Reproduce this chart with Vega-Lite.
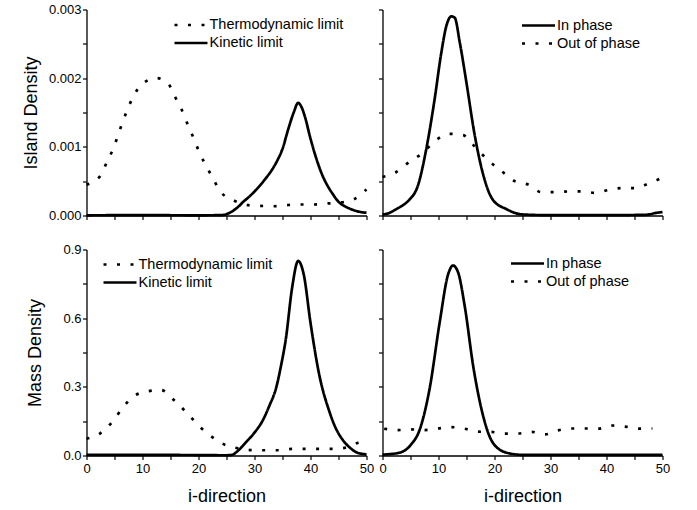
{
  "$schema": "https://vega.github.io/schema/vega-lite/v6.json",
  "padding": {"left": 22.5, "top": 3.5, "right": 5, "bottom": 5},
  "background": "white",
  "columns": 2,
  "spacing": {"row": 34, "column": 16},
  "bounds": "flush",
  "resolve": {"scale": {"y": "independent", "strokeDash": "independent"}, "legend": {"strokeDash": "independent"}},
  "datasets": {
    "tl": [
      {"i": 0, "v": 0.00045, "s": "Thermodynamic limit"}, {"i": 2.4, "v": 0.00057, "s": "Thermodynamic limit"}, {"i": 3.6, "v": 0.00077, "s": "Thermodynamic limit"}, {"i": 4.7, "v": 0.00096, "s": "Thermodynamic limit"}, {"i": 5.6, "v": 0.00116, "s": "Thermodynamic limit"}, {"i": 6.4, "v": 0.00135, "s": "Thermodynamic limit"}, {"i": 7.3, "v": 0.00154, "s": "Thermodynamic limit"}, {"i": 8.4, "v": 0.00174, "s": "Thermodynamic limit"}, {"i": 10, "v": 0.00192, "s": "Thermodynamic limit"}, {"i": 12.5, "v": 0.002, "s": "Thermodynamic limit"}, {"i": 14.6, "v": 0.00192, "s": "Thermodynamic limit"}, {"i": 15.8, "v": 0.00173, "s": "Thermodynamic limit"}, {"i": 17, "v": 0.00154, "s": "Thermodynamic limit"}, {"i": 18, "v": 0.00134, "s": "Thermodynamic limit"}, {"i": 19, "v": 0.00115, "s": "Thermodynamic limit"}, {"i": 20, "v": 0.00095, "s": "Thermodynamic limit"}, {"i": 21.1, "v": 0.00076, "s": "Thermodynamic limit"}, {"i": 22.4, "v": 0.00057, "s": "Thermodynamic limit"}, {"i": 23.9, "v": 0.00035, "s": "Thermodynamic limit"}, {"i": 26.3, "v": 0.00022, "s": "Thermodynamic limit"}, {"i": 28.9, "v": 0.00015, "s": "Thermodynamic limit"}, {"i": 31.1, "v": 0.00014, "s": "Thermodynamic limit"}, {"i": 33.5, "v": 0.000135, "s": "Thermodynamic limit"}, {"i": 35.6, "v": 0.00015, "s": "Thermodynamic limit"}, {"i": 37.9, "v": 0.00016, "s": "Thermodynamic limit"}, {"i": 40.6, "v": 0.00016, "s": "Thermodynamic limit"}, {"i": 43, "v": 0.000175, "s": "Thermodynamic limit"}, {"i": 45.5, "v": 0.00019, "s": "Thermodynamic limit"}, {"i": 47.6, "v": 0.00023, "s": "Thermodynamic limit"}, {"i": 50, "v": 0.00038, "s": "Thermodynamic limit"},
      {"i": 0, "v": 0.000003, "s": "Kinetic limit"}, {"i": 10, "v": 0.000005, "s": "Kinetic limit"}, {"i": 20, "v": 0.000003, "s": "Kinetic limit"}, {"i": 24, "v": 0.000005, "s": "Kinetic limit"}, {"i": 25, "v": 0.00002, "s": "Kinetic limit"}, {"i": 26, "v": 0.00006, "s": "Kinetic limit"}, {"i": 27, "v": 0.00012, "s": "Kinetic limit"}, {"i": 28, "v": 0.0002, "s": "Kinetic limit"}, {"i": 29, "v": 0.00027, "s": "Kinetic limit"}, {"i": 30, "v": 0.00035, "s": "Kinetic limit"}, {"i": 31, "v": 0.00044, "s": "Kinetic limit"}, {"i": 32, "v": 0.00054, "s": "Kinetic limit"}, {"i": 33, "v": 0.00065, "s": "Kinetic limit"}, {"i": 34, "v": 0.00079, "s": "Kinetic limit"}, {"i": 35, "v": 0.00097, "s": "Kinetic limit"}, {"i": 36, "v": 0.00125, "s": "Kinetic limit"}, {"i": 37, "v": 0.0015, "s": "Kinetic limit"}, {"i": 37.8, "v": 0.00164, "s": "Kinetic limit"}, {"i": 38.5, "v": 0.00156, "s": "Kinetic limit"}, {"i": 39, "v": 0.00144, "s": "Kinetic limit"}, {"i": 40, "v": 0.00112, "s": "Kinetic limit"}, {"i": 41, "v": 0.00084, "s": "Kinetic limit"}, {"i": 42, "v": 0.00061, "s": "Kinetic limit"}, {"i": 43, "v": 0.00044, "s": "Kinetic limit"}, {"i": 44, "v": 0.00031, "s": "Kinetic limit"}, {"i": 45, "v": 0.0002, "s": "Kinetic limit"}, {"i": 46, "v": 0.00014, "s": "Kinetic limit"}, {"i": 47, "v": 0.0001, "s": "Kinetic limit"}, {"i": 48, "v": 0.00007, "s": "Kinetic limit"}, {"i": 49, "v": 0.00005, "s": "Kinetic limit"}, {"i": 50, "v": 0.00004, "s": "Kinetic limit"}
    ],
    "tr": [
      {"i": 0, "v": 0.000015, "s": "In phase"}, {"i": 1, "v": 0.00003, "s": "In phase"}, {"i": 2.4, "v": 0.00009, "s": "In phase"}, {"i": 4, "v": 0.00017, "s": "In phase"}, {"i": 4.8, "v": 0.00023, "s": "In phase"}, {"i": 6.3, "v": 0.00043, "s": "In phase"}, {"i": 7.8, "v": 0.00096, "s": "In phase"}, {"i": 9.3, "v": 0.00169, "s": "In phase"}, {"i": 10.5, "v": 0.00237, "s": "In phase"}, {"i": 11.4, "v": 0.00276, "s": "In phase"}, {"i": 12.3, "v": 0.0029, "s": "In phase"}, {"i": 12.9, "v": 0.00288, "s": "In phase"}, {"i": 13.8, "v": 0.00252, "s": "In phase"}, {"i": 15, "v": 0.00193, "s": "In phase"}, {"i": 16.4, "v": 0.0012, "s": "In phase"}, {"i": 17.9, "v": 0.00062, "s": "In phase"}, {"i": 19.7, "v": 0.00023, "s": "In phase"}, {"i": 22.2, "v": 0.00009, "s": "In phase"}, {"i": 25, "v": 0.000015, "s": "In phase"}, {"i": 30, "v": 0.000005, "s": "In phase"}, {"i": 40, "v": 0.000005, "s": "In phase"}, {"i": 47, "v": 0.00001, "s": "In phase"}, {"i": 49, "v": 0.00004, "s": "In phase"}, {"i": 50, "v": 0.00005, "s": "In phase"},
      {"i": 0, "v": 0.00056, "s": "Out of phase"}, {"i": 2.4, "v": 0.00063, "s": "Out of phase"}, {"i": 4.8, "v": 0.00078, "s": "Out of phase"}, {"i": 7, "v": 0.0009, "s": "Out of phase"}, {"i": 9.6, "v": 0.0011, "s": "Out of phase"}, {"i": 12, "v": 0.00119, "s": "Out of phase"}, {"i": 14.4, "v": 0.00117, "s": "Out of phase"}, {"i": 16.4, "v": 0.00101, "s": "Out of phase"}, {"i": 18.8, "v": 0.00081, "s": "Out of phase"}, {"i": 21.2, "v": 0.00065, "s": "Out of phase"}, {"i": 23.6, "v": 0.0005, "s": "Out of phase"}, {"i": 26, "v": 0.00045, "s": "Out of phase"}, {"i": 28.4, "v": 0.00034, "s": "Out of phase"}, {"i": 30.8, "v": 0.00034, "s": "Out of phase"}, {"i": 33.2, "v": 0.00035, "s": "Out of phase"}, {"i": 35.6, "v": 0.00035, "s": "Out of phase"}, {"i": 38, "v": 0.00033, "s": "Out of phase"}, {"i": 40.3, "v": 0.00037, "s": "Out of phase"}, {"i": 42.8, "v": 0.0004, "s": "Out of phase"}, {"i": 45.2, "v": 0.0004, "s": "Out of phase"}, {"i": 47.6, "v": 0.00047, "s": "Out of phase"}, {"i": 50, "v": 0.00055, "s": "Out of phase"}
    ],
    "bl": [
      {"i": 0, "v": 0.073, "s": "Thermodynamic limit"}, {"i": 2.4, "v": 0.096, "s": "Thermodynamic limit"}, {"i": 4.7, "v": 0.15, "s": "Thermodynamic limit"}, {"i": 6.5, "v": 0.21, "s": "Thermodynamic limit"}, {"i": 8.5, "v": 0.26, "s": "Thermodynamic limit"}, {"i": 10.9, "v": 0.28, "s": "Thermodynamic limit"}, {"i": 13.3, "v": 0.286, "s": "Thermodynamic limit"}, {"i": 15.7, "v": 0.24, "s": "Thermodynamic limit"}, {"i": 18, "v": 0.184, "s": "Thermodynamic limit"}, {"i": 20.2, "v": 0.126, "s": "Thermodynamic limit"}, {"i": 22.6, "v": 0.078, "s": "Thermodynamic limit"}, {"i": 25, "v": 0.044, "s": "Thermodynamic limit"}, {"i": 27.5, "v": 0.03, "s": "Thermodynamic limit"}, {"i": 29.9, "v": 0.023, "s": "Thermodynamic limit"}, {"i": 32.3, "v": 0.023, "s": "Thermodynamic limit"}, {"i": 34.5, "v": 0.023, "s": "Thermodynamic limit"}, {"i": 36.9, "v": 0.029, "s": "Thermodynamic limit"}, {"i": 39.4, "v": 0.029, "s": "Thermodynamic limit"}, {"i": 41.7, "v": 0.029, "s": "Thermodynamic limit"}, {"i": 44.1, "v": 0.029, "s": "Thermodynamic limit"}, {"i": 46.5, "v": 0.035, "s": "Thermodynamic limit"}, {"i": 48.4, "v": 0.055, "s": "Thermodynamic limit"}, {"i": 50, "v": 0.065, "s": "Thermodynamic limit"},
      {"i": 0, "v": 0.003, "s": "Kinetic limit"}, {"i": 20, "v": 0.002, "s": "Kinetic limit"}, {"i": 25, "v": 0.001, "s": "Kinetic limit"}, {"i": 26, "v": 0.003, "s": "Kinetic limit"}, {"i": 27, "v": 0.02, "s": "Kinetic limit"}, {"i": 28.4, "v": 0.056, "s": "Kinetic limit"}, {"i": 30, "v": 0.1, "s": "Kinetic limit"}, {"i": 31.4, "v": 0.15, "s": "Kinetic limit"}, {"i": 32.7, "v": 0.22, "s": "Kinetic limit"}, {"i": 33.8, "v": 0.29, "s": "Kinetic limit"}, {"i": 34.8, "v": 0.4, "s": "Kinetic limit"}, {"i": 35.6, "v": 0.51, "s": "Kinetic limit"}, {"i": 36.7, "v": 0.73, "s": "Kinetic limit"}, {"i": 37.8, "v": 0.85, "s": "Kinetic limit"}, {"i": 38.8, "v": 0.79, "s": "Kinetic limit"}, {"i": 40, "v": 0.58, "s": "Kinetic limit"}, {"i": 41.5, "v": 0.36, "s": "Kinetic limit"}, {"i": 43.4, "v": 0.19, "s": "Kinetic limit"}, {"i": 44.5, "v": 0.12, "s": "Kinetic limit"}, {"i": 45.7, "v": 0.07, "s": "Kinetic limit"}, {"i": 47, "v": 0.035, "s": "Kinetic limit"}, {"i": 48.4, "v": 0.012, "s": "Kinetic limit"}, {"i": 50, "v": 0.005, "s": "Kinetic limit"}
    ],
    "br": [
      {"i": 0, "v": 0.004, "s": "In phase"}, {"i": 3, "v": 0.012, "s": "In phase"}, {"i": 5.1, "v": 0.048, "s": "In phase"}, {"i": 6.6, "v": 0.11, "s": "In phase"}, {"i": 8.4, "v": 0.29, "s": "In phase"}, {"i": 10.2, "v": 0.58, "s": "In phase"}, {"i": 11.7, "v": 0.79, "s": "In phase"}, {"i": 12.6, "v": 0.83, "s": "In phase"}, {"i": 13.5, "v": 0.8, "s": "In phase"}, {"i": 14.7, "v": 0.65, "s": "In phase"}, {"i": 16.2, "v": 0.39, "s": "In phase"}, {"i": 18, "v": 0.17, "s": "In phase"}, {"i": 19.7, "v": 0.056, "s": "In phase"}, {"i": 22.2, "v": 0.012, "s": "In phase"}, {"i": 25, "v": 0.003, "s": "In phase"}, {"i": 50, "v": 0.003, "s": "In phase"},
      {"i": 0.3, "v": 0.117, "s": "Out of phase"}, {"i": 2.7, "v": 0.111, "s": "Out of phase"}, {"i": 5.1, "v": 0.114, "s": "Out of phase"}, {"i": 7.5, "v": 0.111, "s": "Out of phase"}, {"i": 9.9, "v": 0.118, "s": "Out of phase"}, {"i": 12.3, "v": 0.124, "s": "Out of phase"}, {"i": 14.7, "v": 0.117, "s": "Out of phase"}, {"i": 17, "v": 0.104, "s": "Out of phase"}, {"i": 19.4, "v": 0.103, "s": "Out of phase"}, {"i": 21.8, "v": 0.096, "s": "Out of phase"}, {"i": 24.2, "v": 0.096, "s": "Out of phase"}, {"i": 26.6, "v": 0.103, "s": "Out of phase"}, {"i": 29, "v": 0.092, "s": "Out of phase"}, {"i": 31.4, "v": 0.11, "s": "Out of phase"}, {"i": 33.8, "v": 0.118, "s": "Out of phase"}, {"i": 36.2, "v": 0.118, "s": "Out of phase"}, {"i": 38.6, "v": 0.117, "s": "Out of phase"}, {"i": 41, "v": 0.131, "s": "Out of phase"}, {"i": 43.4, "v": 0.126, "s": "Out of phase"}, {"i": 45.8, "v": 0.117, "s": "Out of phase"}, {"i": 48.2, "v": 0.118, "s": "Out of phase"}
    ]
  },
  "concat": [
    {
      "width": 280, "height": 206,
      "data": {"name": "tl"},
      "mark": {"type": "line", "color": "black", "strokeWidth": 2.7, "interpolate": "monotone", "strokeCap": "butt"},
      "encoding": {
        "x": {"field": "i", "type": "quantitative", "scale": {"domain": [0, 50], "nice": false}, "axis": {"values": [0,5,10,15,20,25,30,35,40,45,50], "labels": false, "title": null}},
        "y": {"field": "v", "type": "quantitative", "scale": {"domain": [0, 0.003], "nice": false}, "axis": {"values": [0,0.0005,0.001,0.0015,0.002,0.0025,0.003], "labelExpr": "round(datum.value*2000) % 2 == 0 ? format(datum.value, '.3f') : ''", "title": "Island Density", "titleX": -55, "titleY": 103}},
        "strokeDash": {"field": "s", "type": "nominal", "scale": {"domain": ["Thermodynamic limit", "Kinetic limit"], "range": [[3, 10.5], [1, 0]]}, "legend": {"orient": "none", "legendX": 88, "legendY": 5.5}}
      }
    },
    {
      "width": 280, "height": 206,
      "data": {"name": "tr"},
      "mark": {"type": "line", "color": "black", "strokeWidth": 2.7, "interpolate": "monotone", "strokeCap": "butt"},
      "encoding": {
        "x": {"field": "i", "type": "quantitative", "scale": {"domain": [0, 50], "nice": false}, "axis": {"values": [0,5,10,15,20,25,30,35,40,45,50], "labels": false, "title": null}},
        "y": {"field": "v", "type": "quantitative", "scale": {"domain": [0, 0.003], "nice": false}, "axis": {"values": [0,0.0005,0.001,0.0015,0.002,0.0025,0.003], "labels": false, "title": null}},
        "strokeDash": {"field": "s", "type": "nominal", "scale": {"domain": ["In phase", "Out of phase"], "range": [[1, 0], [3, 10.5]]}, "legend": {"orient": "none", "legendX": 139.5, "legendY": 6}}
      }
    },
    {
      "width": 280, "height": 206,
      "data": {"name": "bl"},
      "mark": {"type": "line", "color": "black", "strokeWidth": 2.7, "interpolate": "monotone", "strokeCap": "butt"},
      "encoding": {
        "x": {"field": "i", "type": "quantitative", "scale": {"domain": [0, 50], "nice": false}, "axis": {"values": [0,5,10,15,20,25,30,35,40,45,50], "labelExpr": "datum.value % 10 == 0 ? datum.label : ''", "title": "i-direction", "titleY": 41, "titleBaseline": "middle"}},
        "y": {"field": "v", "type": "quantitative", "scale": {"domain": [0, 0.9], "nice": false}, "axis": {"values": [0,0.15,0.3,0.45,0.6,0.75,0.9], "labelExpr": "round(datum.value/0.15) % 2 == 0 ? format(datum.value, '.1f') : ''", "title": "Mass Density", "titleX": -51, "titleY": 103}},
        "strokeDash": {"field": "s", "type": "nominal", "scale": {"domain": ["Thermodynamic limit", "Kinetic limit"], "range": [[3, 10.5], [1, 0]]}, "legend": {"orient": "none", "legendX": 17, "legendY": 5}}
      }
    },
    {
      "width": 280, "height": 206,
      "data": {"name": "br"},
      "mark": {"type": "line", "color": "black", "strokeWidth": 2.7, "interpolate": "monotone", "strokeCap": "butt"},
      "encoding": {
        "x": {"field": "i", "type": "quantitative", "scale": {"domain": [0, 50], "nice": false}, "axis": {"values": [0,5,10,15,20,25,30,35,40,45,50], "labelExpr": "datum.value % 10 == 0 ? datum.label : ''", "title": "i-direction", "titleY": 41, "titleBaseline": "middle"}},
        "y": {"field": "v", "type": "quantitative", "scale": {"domain": [0, 0.9], "nice": false}, "axis": {"values": [0,0.15,0.3,0.45,0.6,0.75,0.9], "labels": false, "title": null}},
        "strokeDash": {"field": "s", "type": "nominal", "scale": {"domain": ["In phase", "Out of phase"], "range": [[1, 0], [3, 10.5]]}, "legend": {"orient": "none", "legendX": 128.5, "legendY": 4}}
      }
    }
  ],
  "config": {
    "view": {"stroke": null},
    "font": "Liberation Sans",
    "axis": {"grid": false, "domainColor": "black", "domainWidth": 1.3, "tickColor": "black", "tickSize": 4, "tickWidth": 1.2, "labelFont": "Liberation Sans", "labelFontSize": 13, "labelColor": "black", "labelFlush": false, "labelOverlap": false, "titleFont": "Liberation Sans", "titleFontSize": 18, "titleFontWeight": "normal", "titleColor": "black"},
    "axisX": {"labelPadding": 3},
    "axisY": {"labelPadding": 1.5, "titleBaseline": "middle"},
    "legend": {"title": null, "symbolType": "M-2,0H2", "symbolSize": 272, "symbolOffset": 6.5, "symbolStrokeWidth": 2.7, "symbolStrokeColor": "black", "labelFont": "Liberation Sans", "labelFontSize": 14.5, "labelColor": "black", "labelOffset": 8.5, "rowPadding": 1, "padding": 0}
  }
}
